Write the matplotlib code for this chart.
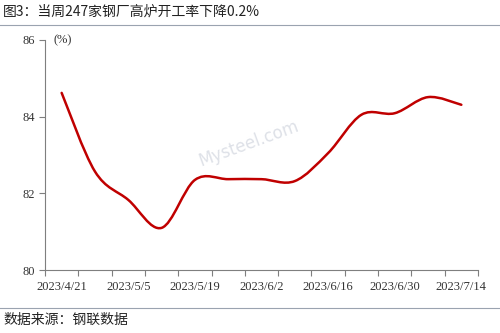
import matplotlib
matplotlib.use("Agg")
import matplotlib.pyplot as plt
from matplotlib.path import Path
from matplotlib.patches import PathPatch
from matplotlib.lines import Line2D
import numpy as np

# 数据（周度，高炉开工率 %）
dates = ["2023/4/21", "2023/4/28", "2023/5/5", "2023/5/12", "2023/5/19", "2023/5/26",
         "2023/6/2", "2023/6/9", "2023/6/16", "2023/6/23", "2023/6/30", "2023/7/7", "2023/7/14"]
rates = [84.62, 82.57, 81.83, 81.10, 82.35, 82.37, 82.37, 82.32, 83.05, 84.05, 84.09, 84.51, 84.31]
shown_labels = dates[::2]

title = "图3：当周247家钢厂高炉开工率下降0.2%"
source = "数据来源：钢联数据"

cjk = ["Noto Sans CJK SC", "DejaVu Sans"]
serif = "Liberation Serif"
line_color = "#C00000"

fig = plt.figure(figsize=(5, 3.33), dpi=100)
ax = fig.add_axes([0.09, 0.189, 0.866, 0.691])

x = np.arange(len(rates))
y = np.array(rates)

# Excel 风格平滑线：Catmull-Rom 转三次贝塞尔
verts = [(x[0], y[0])]
codes = [Path.MOVETO]
n = len(x)
for i in range(n - 1):
    p0 = (x[max(i - 1, 0)], y[max(i - 1, 0)])
    p1 = (x[i], y[i])
    p2 = (x[i + 1], y[i + 1])
    p3 = (x[min(i + 2, n - 1)], y[min(i + 2, n - 1)])
    c1 = (p1[0] + (p2[0] - p0[0]) / 6, p1[1] + (p2[1] - p0[1]) / 6)
    c2 = (p2[0] - (p3[0] - p1[0]) / 6, p2[1] - (p3[1] - p1[1]) / 6)
    verts += [c1, c2, p2]
    codes += [Path.CURVE4] * 3
ax.add_patch(PathPatch(Path(verts, codes), facecolor="none", edgecolor=line_color,
                       lw=1.8, capstyle="round", joinstyle="round"))

ax.set_xlim(-0.5, len(rates) - 0.5)
ax.set_ylim(80, 86)
ax.set_yticks([80, 82, 84, 86])
ax.set_xticks(x[::2])
ax.set_xticklabels(shown_labels)
ax.set_xticks(np.arange(len(rates) + 1) - 0.5, minor=True)

for s in ["top", "right"]:
    ax.spines[s].set_visible(False)
for s in ["left", "bottom"]:
    ax.spines[s].set_color("#7f7f7f")
    ax.spines[s].set_linewidth(0.8)

ax.tick_params(axis="x", which="major", length=0, labelsize=9, pad=8, colors="#333333")
ax.tick_params(axis="x", which="minor", length=4, direction="out", color="#7f7f7f", width=0.8)
ax.tick_params(axis="y", length=4, direction="out", color="#7f7f7f", width=0.8,
               labelsize=9, pad=3, colors="#333333")
for lab in ax.get_xticklabels() + ax.get_yticklabels():
    lab.set_fontfamily(serif)

ax.text(0.02, 1.0, "(%)", transform=ax.transAxes, fontsize=9, family=serif,
        color="#333333", va="center", ha="left")

# 水印
ax.text(0.47, 0.55, "Mysteel.com", transform=ax.transAxes, fontsize=12, color="#c8cdd8",
        rotation=20, alpha=0.6, ha="center", va="center", family="DejaVu Sans")

fig.text(0.006, 0.965, title, fontsize=10, family=cjk, color="#222222", va="center", ha="left")
fig.text(0.006, 0.04, source, fontsize=10, family=cjk, color="#222222", va="center", ha="left")
fig.add_artist(Line2D([0, 1], [0.925, 0.925], transform=fig.transFigure, color="#9aa3b0", lw=0.8))
fig.add_artist(Line2D([0, 1], [0.076, 0.076], transform=fig.transFigure, color="#9aa3b0", lw=0.8))

fig.savefig("out.png", dpi=100)
